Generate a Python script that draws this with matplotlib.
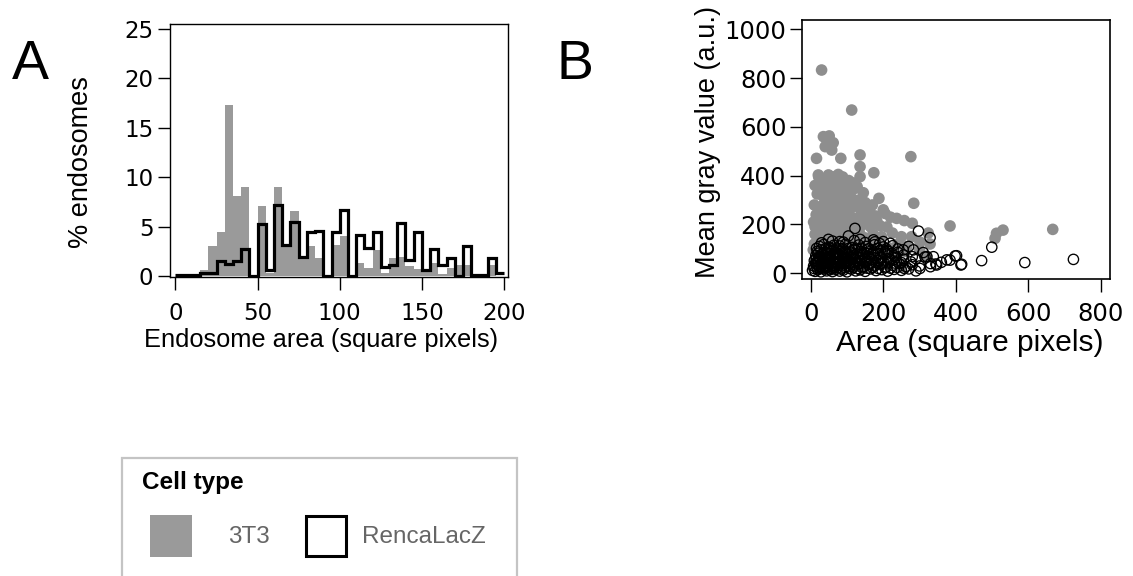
import matplotlib
matplotlib.use("Agg")
import matplotlib.pyplot as plt
from matplotlib.patches import Rectangle

# ---------------- data ----------------
bin_edges = [0, 5, 10, 15, 20, 25, 30, 35, 40, 45, 50, 55, 60, 65, 70, 75, 80, 85, 90, 95,
             100, 105, 110, 115, 120, 125, 130, 135, 140, 145, 150, 155, 160, 165, 170, 175,
             180, 185, 190, 195, 200]
pct_3t3 = [0, 0, 0, 0.6, 3.0, 4.5, 17.3, 8.05, 9.0, 0, 7.05, 0.3, 9.0, 3.0, 6.6, 1.9, 3.0, 1.8,
           0, 3.1, 4.0, 0, 1.3, 0.8, 2.6, 0.3, 1.8, 1.9, 1.0, 0.7, 0.4, 1.3, 0.2, 0.8, 1.1, 1.1,
           0, 0, 1.1, 0]
pct_renca = [0.1, 0.1, 0.1, 0.35, 0.35, 1.55, 1.2, 1.55, 2.7, 0, 5.3, 0.65, 7.2, 3.1, 5.5, 1.95,
             4.5, 4.6, 0, 4.5, 6.7, 0, 4.1, 2.8, 4.5, 0.9, 1.1, 5.4, 1.6, 4.5, 0.6, 2.7, 1.1, 1.85,
             0, 3.05, 0.15, 0.15, 1.85, 0.3]
hist_xticks = [0, 50, 100, 150, 200]
hist_yticks = [0, 5, 10, 15, 20, 25]

pts_3t3 = [
    (30, 833), (113, 669), (35, 560), (51, 563), (44, 548), (62, 535), (40, 519), (58, 505),
    (16, 471), (83, 471), (136, 485), (276, 478), (136, 437), (136, 396), (174, 412),
    (21, 403), (49, 403), (76, 405), (26, 390), (62, 395), (99, 369), (122, 348), (90, 355),
    (26, 341), (99, 321), (188, 307), (284, 287), (155, 262), (163, 250), (159, 211),
    (191, 195), (237, 225), (258, 216), (280, 205), (384, 194), (512, 164), (530, 177),
    (508, 143), (667, 180), (324, 165), (301, 128), (329, 120), (278, 150),
    (22, 395), (30, 385), (45, 380), (55, 392), (70, 388), (88, 395), (105, 380), (118, 370),
    (12, 360), (28, 350), (40, 345), (52, 365), (66, 355), (80, 348), (95, 362), (110, 340),
    (128, 355), (145, 330), (18, 325), (33, 318), (47, 330), (60, 305), (72, 322), (86, 300),
    (100, 315), (115, 305), (133, 300), (150, 290), (10, 280), (24, 270), (38, 290), (55, 265),
    (68, 282), (82, 270), (96, 285), (108, 262), (125, 275), (140, 265), (170, 280), (200, 260),
    (15, 240), (30, 230), (42, 250), (58, 225), (74, 245), (90, 232), (104, 248), (120, 225),
    (138, 240), (152, 230), (178, 235), (205, 245), (220, 230), (8, 210), (20, 195), (35, 205),
    (50, 185), (64, 215), (78, 198), (94, 190), (110, 208), (126, 185), (144, 200), (165, 190),
    (182, 215), (210, 190), (12, 160), (26, 150), (40, 172), (55, 145), (70, 165), (85, 155),
    (100, 175), (118, 150), (135, 165), (150, 145), (172, 160), (195, 150), (225, 165),
    (250, 150), (10, 120), (22, 110), (36, 130), (50, 105), (66, 125), (82, 112), (98, 135),
    (114, 108), (130, 122), (148, 100), (168, 130), (190, 115), (215, 105), (240, 120),
    (265, 110), (15, 80), (30, 70), (45, 90), (60, 60), (78, 85), (95, 65), (112, 90),
    (130, 70), (150, 85), (175, 60), (205, 80), (235, 70), (260, 90), (300, 95), (320, 70),
    (12, 30), (28, 20), (44, 40), (62, 15), (80, 35), (100, 25), (120, 40), (145, 20),
    (175, 30), (210, 35), (250, 25), (7, 96), (12, 191),
]
pts_renca = [
    (297, 173), (329, 146), (283, 96), (345, 38), (375, 55), (398, 71), (414, 34), (471, 52),
    (499, 107), (590, 44), (724, 57), (122, 184), (49, 139), (104, 153), (136, 139),
    (173, 137), (219, 123), (255, 96), (301, 20), (320, 68), (338, 68), (16, 102), (177, 129),
    (384, 54), (402, 72), (416, 37), (347, 34), (315, 67), (360, 45), (330, 40), (310, 85),
    (290, 60), (270, 110), (240, 100), (200, 130), (80, 130), (30, 125),
    (5, 12), (12, 8), (20, 15), (28, 6), (36, 18), (44, 10), (52, 14), (60, 7), (70, 16),
    (80, 9), (90, 13), (100, 6), (112, 17), (124, 10), (136, 14), (150, 8), (165, 18),
    (180, 11), (196, 15), (212, 9), (230, 16), (250, 12), (270, 18), (290, 10),
    (8, 30), (16, 38), (24, 27), (32, 35), (40, 28), (50, 40), (58, 32), (66, 26), (76, 37),
    (86, 30), (96, 39), (108, 28), (120, 34), (132, 40), (146, 27), (160, 36), (176, 30),
    (192, 38), (208, 26), (226, 33), (244, 40), (262, 28), (280, 35), (300, 30), (330, 27),
    (10, 52), (18, 47), (26, 58), (34, 50), (42, 46), (52, 56), (62, 49), (72, 59), (82, 47),
    (92, 55), (104, 50), (116, 58), (128, 46), (140, 54), (154, 48), (168, 57), (184, 51),
    (200, 46), (218, 56), (236, 50), (256, 58), (276, 47),
    (14, 72), (22, 66), (30, 78), (40, 70), (50, 65), (60, 77), (70, 69), (80, 74), (92, 66),
    (104, 79), (116, 71), (130, 67), (144, 77), (158, 70), (174, 74), (190, 66), (210, 78),
    (232, 70), (256, 75), (280, 68),
    (18, 90), (28, 96), (38, 87), (48, 98), (58, 92), (70, 86), (82, 99), (94, 91), (108, 88),
    (122, 97), (138, 90), (154, 96), (172, 87), (192, 95), (214, 90), (240, 86),
    (24, 110), (36, 118), (50, 107), (64, 115), (80, 112), (96, 119), (114, 106), (132, 116),
    (152, 110), (176, 117), (200, 108), (226, 113),
    (60, 132), (90, 128), (120, 134), (150, 126), (190, 122),
    (9, 20), (17, 24), (25, 19), (33, 23), (41, 21), (48, 25), (56, 20), (64, 22), (74, 24),
    (84, 19), (94, 23), (106, 21), (118, 24), (130, 20), (142, 23), (156, 21), (170, 24),
    (186, 20), (204, 23), (220, 21), (238, 24), (258, 20),
    (13, 42), (21, 44), (29, 41), (37, 43), (46, 44), (55, 41), (63, 43), (71, 42), (80, 44),
    (90, 41), (100, 43), (111, 42), (123, 44), (136, 41), (150, 43), (164, 42), (180, 44),
    (196, 41), (214, 43), (232, 42), (250, 44),
    (15, 61), (24, 63), (32, 62), (38, 60), (47, 62), (56, 64), (66, 61), (77, 63), (87, 62),
    (98, 61), (110, 64), (122, 62), (135, 63), (148, 61), (162, 64), (178, 62), (195, 63),
    (214, 61), (234, 64),
    (20, 82), (34, 80), (44, 83), (54, 81), (65, 82), (75, 80), (88, 83), (99, 81), (112, 82),
    (126, 80), (141, 83), (156, 81), (170, 82), (186, 80), (204, 83), (224, 81),
    (42, 102), (56, 100), (72, 103), (88, 101), (104, 102), (120, 100), (140, 103), (160, 101),
    (184, 102), (208, 100),
]
area_3t3 = [p[0] for p in pts_3t3]
gray_3t3 = [p[1] for p in pts_3t3]
area_renca = [p[0] for p in pts_renca]
gray_renca = [p[1] for p in pts_renca]
sc_xticks = [0, 200, 400, 600, 800]
sc_yticks = [0, 200, 400, 600, 800, 1000]

# ---------------- style ----------------
GRAY = "#9a9a9a"
SC_GRAY = "#8e8e8e"
W, H = 1133, 576
TICK_FONT = ["DejaVu Sans"]
LAB_FONT = ["Liberation Sans", "DejaVu Sans"]
plt.rcParams["font.family"] = LAB_FONT

fig = plt.figure(figsize=(W / 100, H / 100), dpi=100)


def ax_rect(l, t, r, b):
    return [l / W, 1 - b / H, (r - l) / W, (b - t) / H]


def style_ticks(ax, size):
    for lab in ax.get_xticklabels() + ax.get_yticklabels():
        lab.set_family(TICK_FONT)
        lab.set_fontsize(size)


# ---------------- panel A ----------------
axA = fig.add_axes(ax_rect(170, 24, 508, 277))
axA.stairs(pct_3t3, bin_edges, fill=True, color=GRAY, lw=0)
axA.stairs(pct_renca, bin_edges, baseline=None, color="black", lw=2.3)
axA.set_xlim(-3.3, 202.4)
axA.set_ylim(-0.1, 25.5)
axA.set_xticks(hist_xticks)
axA.set_yticks(hist_yticks)
axA.tick_params(direction="out", length=9, width=1, color="black")
axA.tick_params(axis="x", pad=9)
axA.tick_params(axis="y", pad=3)
style_ticks(axA, 16.5)
for s in axA.spines.values():
    s.set_linewidth(1.0)
axA.set_xlabel("Endosome area (square pixels)", fontsize=18.3, va="center", ha="center")
axA.xaxis.set_label_coords(0.447, -0.249)
axA.set_ylabel("% endosomes", fontsize=19.5, va="center", ha="center")
axA.yaxis.set_label_coords(-0.263, 0.4545)

# ---------------- panel B ----------------
axB = fig.add_axes(ax_rect(801.7, 20, 1110, 279.3))
axB.scatter(area_3t3, gray_3t3, s=70, color=SC_GRAY, edgecolors="none", zorder=2)
axB.scatter(area_renca, gray_renca, s=55, facecolors="none", edgecolors="black",
            linewidths=0.95, zorder=3)
axB.set_xlim(-24.8, 824.8)
axB.set_ylim(-24.6, 1038)
axB.set_xticks(sc_xticks)
axB.set_yticks(sc_yticks)
axB.tick_params(direction="out", length=9, width=1, color="black")
axB.tick_params(axis="x", pad=7)
axB.tick_params(axis="y", pad=2)
style_ticks(axB, 17.5)
for s in axB.spines.values():
    s.set_linewidth(1.2)
axB.set_xlabel("Area (square pixels)", fontsize=21.5, va="center", ha="center")
axB.xaxis.set_label_coords(0.546, -0.246)
axB.set_ylabel("Mean gray value (a.u.)", fontsize=19.5, va="center", ha="center")
axB.yaxis.set_label_coords((708 - 801.7) / 308.3, 0.5295)

# ---------------- panel letters ----------------
fig.text(30 / W, 1 - 65 / H, "A", fontsize=40, ha="center", va="center")
fig.text(575 / W, 1 - 65 / H, "B", fontsize=40, ha="center", va="center")

# ---------------- legend ----------------
fig.patches.append(Rectangle((122 / W, 1 - 600 / H), (517 - 122) / W, (600 - 458) / H,
                             transform=fig.transFigure, facecolor="white",
                             edgecolor="#c4c4c4", lw=1.6))
fig.text(142 / W, 1 - 483 / H, "Cell type", fontsize=17.5, fontweight="bold",
         ha="left", va="center")
fig.patches.append(Rectangle((150 / W, 1 - 557 / H), 42 / W, 42 / H,
                             transform=fig.transFigure, facecolor=GRAY, edgecolor="none"))
fig.text(228 / W, 1 - 537 / H, "3T3", fontsize=17.5, color="#666666",
         ha="left", va="center")
fig.patches.append(Rectangle((306 / W, 1 - 556 / H), 40 / W, 40 / H,
                             transform=fig.transFigure, facecolor="white",
                             edgecolor="black", lw=2.2))
fig.text(362 / W, 1 - 537 / H, "RencaLacZ", fontsize=17.5, color="#666666",
         ha="left", va="center")

fig.savefig("out.png", dpi=100)
